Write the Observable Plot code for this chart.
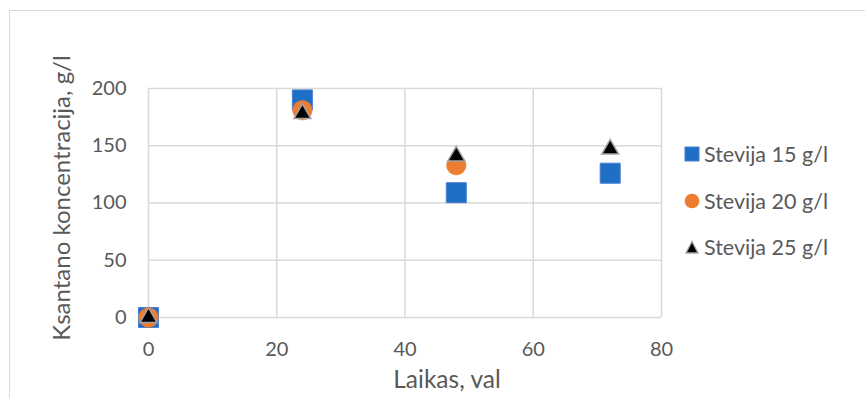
<!DOCTYPE html>
<html>
<head>
<meta charset="utf-8">
<script src="https://cdn.jsdelivr.net/npm/d3@7"></script>
<script src="https://cdn.jsdelivr.net/npm/@observablehq/plot@0.6"></script>
<style>
  html, body { margin: 0; padding: 0; background: #fff; }
  #wrap { position: relative; width: 865px; height: 398px; overflow: hidden; font-family: Lato, "Open Sans", sans-serif; color: #595959; }
  #border { position: absolute; left: 9px; top: 10px; width: 900px; height: 500px; border-left: 1.5px solid #D9D9D9; border-top: 1.5px solid #D9D9D9; }
  #chart { position: absolute; left: 0; top: 0; }
  #legend { position: absolute; left: 684px; top: 131px; }
  .item { display: flex; align-items: center; height: 46.5px; font-size: 21.5px; }
  .item svg { margin-right: 4px; }
</style>
</head>
<body>
<div id="wrap">
  <div id="border"></div>
  <div id="chart"></div>
  <div id="legend"></div>
</div>
<script>
// Sampling times (hours) and xanthan concentration for each stevia dose
const time = [0, 24, 48, 72];
const stevija15 = [0, 190, 109, 126];
const stevija20 = [0, 181, 133, null];
const stevija25 = [0, 178, 141, 147];

const seriesNames = ["Stevija 15 g/l", "Stevija 20 g/l", "Stevija 25 g/l"];
const xTicks = [0, 20, 40, 60, 80];
const yTicks = [0, 50, 100, 150, 200];
const xTitle = "Laikas, val";
const yTitle = "Ksantano koncentracija, g/l";

const rows = (vals) => time.map((t, i) => ({t, v: vals[i]})).filter(d => d.v != null);

const grid = "#D9D9D9";
const blue = "#1F6FC6", blueEdge = "#4A7FD2";
const orange = "#ED7D31";
const black = "#000000", grayEdge = "#A5A5A5";

const chart = Plot.plot({
  width: 865,
  height: 398,
  marginLeft: 148,
  marginRight: 204,
  marginTop: 88,
  marginBottom: 81,
  style: { fontFamily: "Lato, 'Open Sans', sans-serif", fontSize: "20px", color: "#595959", background: "transparent" },
  x: { domain: [0, 80] },
  y: { domain: [0, 200] },
  marks: [
    Plot.gridX({ ticks: xTicks, stroke: grid, strokeOpacity: 1, strokeWidth: 1.5 }),
    Plot.gridY({ ticks: yTicks, stroke: grid, strokeOpacity: 1, strokeWidth: 1.5 }),
    Plot.axisX({ ticks: xTicks, tickSize: 0, tickPadding: 24, label: null, fontSize: 20 }),
    Plot.axisY({ ticks: yTicks, tickSize: 0, tickPadding: 22, label: null, fontSize: 20 }),
    // axis titles, anchored to the frame
    Plot.text([xTitle], { frameAnchor: "bottom", dx: 42, dy: 70, fontSize: 24.5, fill: "#595959" }),
    Plot.text([yTitle], { frameAnchor: "left", dx: -86, dy: -5, rotate: -90, textAnchor: "middle", lineAnchor: "middle", fontSize: 24, fill: "#595959" }),
    Plot.dot(rows(stevija15), { x: "t", y: "v", symbol: "square", r: 11.3, fill: blue, stroke: blueEdge, strokeWidth: 1 }),
    Plot.dot(rows(stevija20), { x: "t", y: "v", symbol: "circle", r: 9.8, fill: orange, stroke: orange, strokeWidth: 0.5 }),
    Plot.dot(rows(stevija25), { x: "t", y: "v", symbol: "triangle", r: 6.3, fill: black, stroke: grayEdge, strokeWidth: 1.5 })
  ]
});
document.getElementById("chart").append(chart);

// Legend entries: square, circle, triangle swatches
const swatches = [
  `<svg width="16" height="16"><rect x="1" y="1" width="14" height="14" fill="${blue}" stroke="${blueEdge}" stroke-width="1"/></svg>`,
  `<svg width="16" height="16"><circle cx="8" cy="8" r="7.3" fill="${orange}"/></svg>`,
  `<svg width="16" height="16"><path d="M8,2.5 L14,14 L2,14 Z" fill="${black}" stroke="${grayEdge}" stroke-width="1.3"/></svg>`
];
const legend = document.getElementById("legend");
seriesNames.forEach((name, i) => {
  const div = document.createElement("div");
  div.className = "item";
  div.innerHTML = swatches[i] + `<span>${name}</span>`;
  legend.append(div);
});
</script>
</body>
</html>
